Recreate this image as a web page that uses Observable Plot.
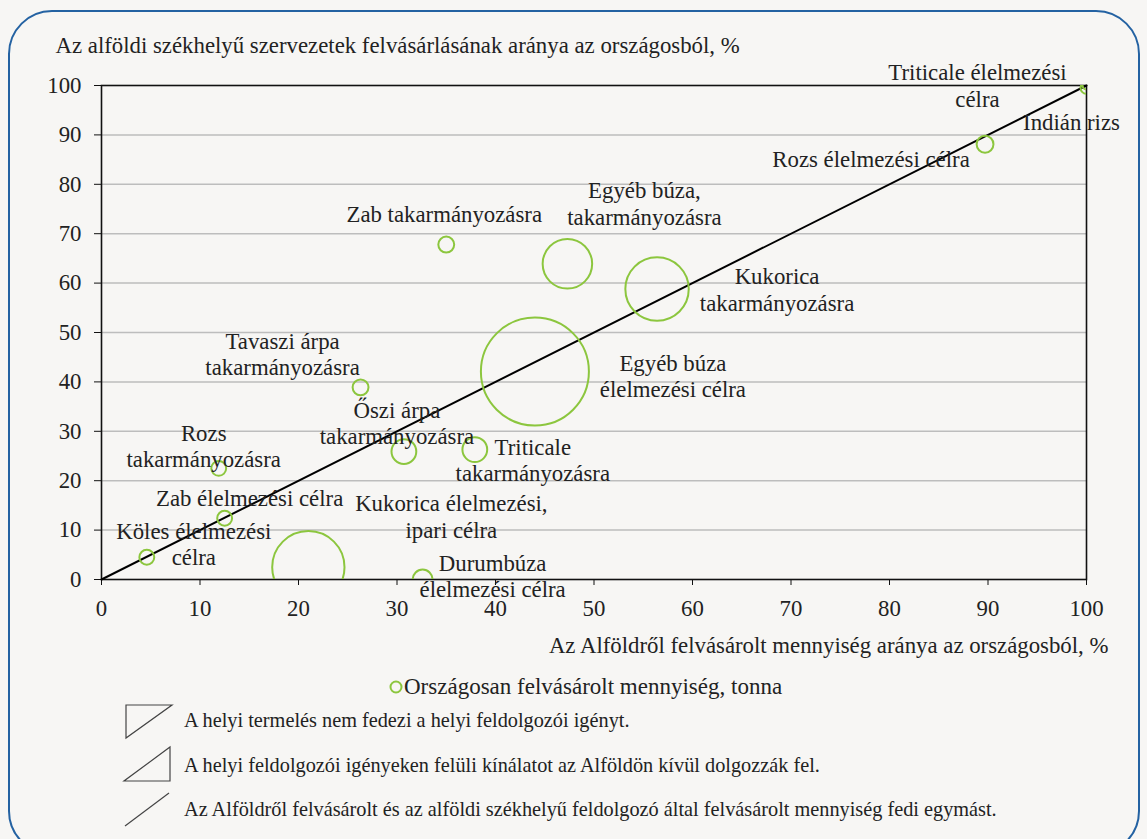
<!DOCTYPE html>
<html>
<head>
<meta charset="utf-8">
<script src="https://cdn.jsdelivr.net/npm/d3@7"></script>
<script src="https://cdn.jsdelivr.net/npm/@observablehq/plot@0.6"></script>
<style>
  html, body { margin: 0; padding: 0; background: #f7f6f4; overflow: hidden; }
  body { width: 1147px; height: 839px; position: relative; font-family: "Liberation Serif", "DejaVu Serif", serif; color: #222; }
  #border { position: absolute; left: 8px; top: 10px; width: 1132px; height: 845px; border: 2px solid #2462a2; border-radius: 44px; box-sizing: border-box; }
  #chart { position: absolute; left: 0; top: 0; }
  .leg { position: absolute; font-size: 23px; white-space: nowrap; display: flex; align-items: center; height: 24px; }
  .row { position: absolute; left: 122px; height: 40px; display: flex; align-items: center; }
  .row svg { width: 52px; height: 40px; }
  .row span { margin-left: 10px; font-size: 20.3px; }
</style>
</head>
<body>
<div id="border"></div>
<div id="chart"></div>
<div class="leg" id="bubbleLegend" style="left:388px; top:675px;">
  <svg width="16" height="16"><circle cx="8" cy="8" r="5.5" fill="none" stroke="#8cc63e" stroke-width="2"/></svg><span id="bubbleLegendText"></span>
</div>
<div class="row" style="top:700px;"><svg><path d="M4,5 H50 L4,38 Z" fill="none" stroke="#444" stroke-width="1.2"/></svg><span id="l1"></span></div>
<div class="row" style="top:745px;"><svg><path d="M2,36 H48 V2 Z" fill="none" stroke="#444" stroke-width="1.2"/></svg><span id="l2"></span></div>
<div class="row" style="top:789px;"><svg><path d="M3,37 L47,4" fill="none" stroke="#444" stroke-width="1.2"/></svg><span id="l3"></span></div>
<script>
// ---- data ----
const names = [
  "Triticale élelmezési\ncélra",
  "Indián rizs",
  "Rozs élelmezési célra",
  "Zab takarmányozásra",
  "Egyéb búza,\ntakarmányozásra",
  "Kukorica\ntakarmányozásra",
  "Egyéb búza\nélelmezési célra",
  "Tavaszi árpa\ntakarmányozásra",
  "Őszi árpa\ntakarmányozásra",
  "Triticale\ntakarmányozásra",
  "Rozs\ntakarmányozásra",
  "Zab élelmezési célra",
  "Köles élelmezési\ncélra",
  "Kukorica élelmezési,\nipari célra",
  "Durumbúza\nélelmezési célra"
];
// Az Alföldről felvásárolt mennyiség aránya az országosból, %
const xShare = [100, 100, 89.7, 35.0, 47.3, 56.4, 44.0, 26.3, 30.7, 37.9, 11.9, 12.5, 4.6, 21.0, 32.6];
// Az alföldi székhelyű szervezetek felvásárlásának aránya az országosból, %
const yShare = [99.5, 100, 88.1, 67.8, 63.9, 58.8, 42.1, 38.9, 25.9, 26.3, 22.5, 12.4, 4.5, 2.5, 0.0];
// Országosan felvásárolt mennyiség, tonna
const tonnes = [36000, 16000, 73000, 65000, 631000, 1034000, 3000000, 65000, 158000, 158000, 57000, 57000, 57000, 1345000, 101000];

const xTicks = [0, 10, 20, 30, 40, 50, 60, 70, 80, 90, 100];
const yTicks = [0, 10, 20, 30, 40, 50, 60, 70, 80, 90, 100];
const gridValues = [10, 20, 30, 40, 50, 60, 70, 80, 90];
const diagonal = [{x: 0, y: 0}, {x: 100, y: 100}];

const yTitle = "Az alföldi székhelyű szervezetek felvásárlásának aránya az országosból, %";
const xTitle = "Az Alföldről felvásárolt mennyiség aránya az országosból, %";
const bubbleLegend = "Országosan felvásárolt mennyiség, tonna";
const legendLines = [
  "A helyi termelés nem fedezi a helyi feldolgozói igényt.",
  "A helyi feldolgozói igényeken felüli kínálatot az Alföldön kívül dolgozzák fel.",
  "Az Alföldről felvásárolt és az alföldi székhelyű feldolgozó által felvásárolt mennyiség fedi egymást."
];

// ---- label layout (pixel offsets from each bubble) ----
const labelOffsets = [
  [-109, -3], [-15, 36], [-114, 14], [-2, -31], [77, -61], [120, 0], [138, 4],
  [-78, -34], [-7, -29], [58, 10], [-15, -23], [25, -21], [47, -14], [143, -51], [70, -4]
];

const points = names.map((n, i) => ({name: n, x: xShare[i], y: yShare[i], t: tonnes[i], i}));
const green = "#8cc63e";
const FS = 22.8;

const labelMarks = points.map(p => Plot.text([p], {
  x: "x", y: "y", text: "name",
  dx: labelOffsets[p.i][0], dy: labelOffsets[p.i][1],
  fontSize: FS, lineHeight: 1.16, fill: "#222", textAnchor: "middle", lineAnchor: "middle"
}));

const chart = Plot.plot({
  width: 1147, height: 660,
  marginLeft: 101, marginRight: 61, marginTop: 85, marginBottom: 81,
  style: {background: "transparent", fontFamily: "Liberation Serif, DejaVu Serif, serif", fontSize: FS + "px", color: "#222"},
  x: {domain: [0, 100], ticks: xTicks, label: null},
  y: {domain: [0, 100], ticks: yTicks, label: null},
  r: {type: "sqrt", domain: [0, 3000000], range: [0, 54]},
  marks: [
    Plot.gridY(gridValues, {stroke: "#bdbdbd", strokeOpacity: 1, strokeWidth: 1.5}),
    Plot.axisX(xTicks, {tickSize: 6, tickPadding: 14, stroke: "#111", fill: "#222", fontSize: FS, label: null}),
    Plot.axisY(yTicks, {tickSize: 7, tickPadding: 13, stroke: "#111", fill: "#222", fontSize: FS, label: null}),
    Plot.frame({stroke: "#111", strokeWidth: 1.6}),
    Plot.line(diagonal, {x: "x", y: "y", stroke: "#000", strokeWidth: 2}),
    Plot.dot(points, {x: "x", y: "y", r: "t", stroke: green, strokeWidth: 2, fill: "none", clip: true}),
    ...labelMarks,
    Plot.text([yTitle], {frameAnchor: "top-left", dx: -46, dy: -40, textAnchor: "start", lineAnchor: "middle", fontSize: FS, fill: "#222"}),
    Plot.text([xTitle], {frameAnchor: "bottom-right", dx: 22, dy: 66, textAnchor: "end", lineAnchor: "middle", fontSize: FS, fill: "#222"})
  ]
});
document.getElementById("chart").appendChild(chart);
document.getElementById("bubbleLegendText").textContent = bubbleLegend;
document.getElementById("l1").textContent = legendLines[0];
document.getElementById("l2").textContent = legendLines[1];
document.getElementById("l3").textContent = legendLines[2];
</script>
</body>
</html>
